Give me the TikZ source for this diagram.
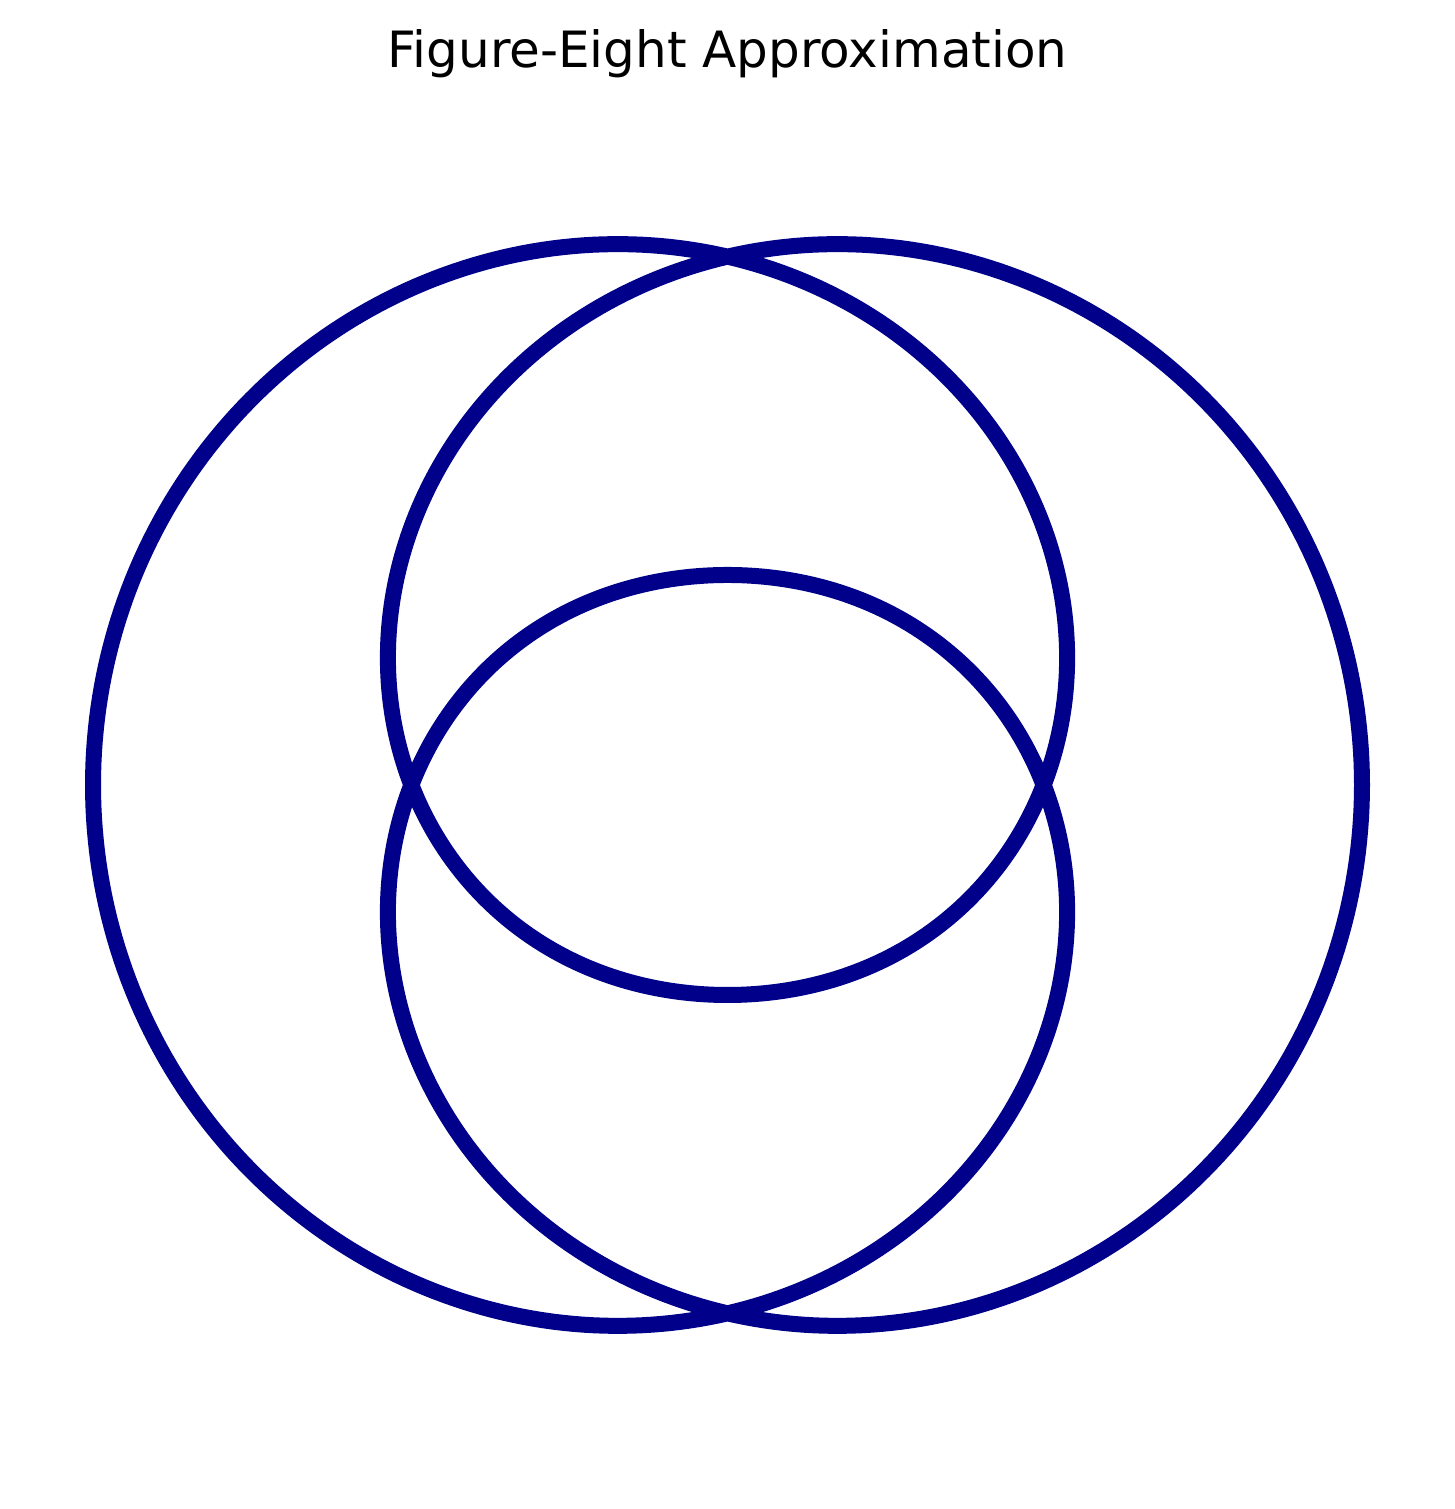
\documentclass[tikz,border=0pt]{standalone}
\usepackage{fontspec}
\setmainfont{DejaVu Sans}
\definecolor{curveblue}{RGB}{0,0,139}
\begin{document}
\begin{tikzpicture}[x=1pt,y=1pt,
  curve/.style={draw=curveblue,line width=16pt,line join=round,line cap=round},
  titlestyle/.style={font=\fontsize{50}{60}\selectfont,inner sep=0pt,anchor=base}]
\useasboundingbox[fill=white] (0,0) rectangle (1455,1509);
\coordinate (c) at (727.5,724);
\node[titlestyle] (title) at (727.5,1441) {Figure-Eight Approximation};
\draw[curve] plot[domain=0:1080,samples=1081,variable=\t]
  ({727.5+(422.25-212.25*cos(2*\t/3+60))*cos(\t)},
   {724+(422.25-212.25*cos(2*\t/3+60))*sin(\t)}) -- cycle;
\end{tikzpicture}
\end{document}
